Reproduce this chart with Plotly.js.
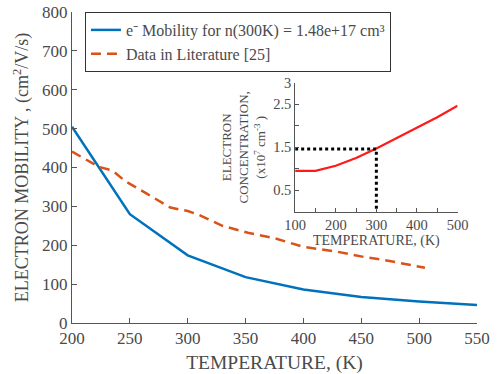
<!DOCTYPE html>
<html>
<head>
<meta charset="utf-8">
<script src="https://cdn.plot.ly/plotly-3.0.1.min.js"></script>
<style>html,body{margin:0;padding:0;background:#fff;}#chart{width:501px;height:374px;}</style>
</head>
<body>
<div id="chart"></div>
<script>
// Main plot: electron mobility
const mobilityTemp = [200, 250, 300, 350, 400, 450, 500, 550];
const mobilityValues = [505, 280, 174, 118, 86, 67, 55, 46];

const literatureTemp = [200, 223, 235, 246, 265, 285, 300, 310, 330, 352, 375, 400, 428, 452, 470, 505];
const literatureValues = [441, 402, 392, 365, 332, 297, 288, 278, 250, 232, 218, 196, 184, 170, 162, 142];

// Inset: electron concentration
const concTemp = [100, 150, 200, 250, 300, 350, 400, 450, 500];
const concValues = [0.95, 0.95, 1.07, 1.25, 1.47, 1.71, 1.95, 2.2, 2.47];

// Dotted guide at 300 K
const guideTemp = [100, 300, 300];
const guideValues = [1.46, 1.46, 0];

const insetYTickVals = [0.5, 1, 1.5, 2, 2.5, 3];
const insetYTickText = ['0.5', '', '1.5', '', '2.5', '3'];

const mainName = 'e\u207B Mobility for n(300K) = 1.48e+17 cm\u00B3';
const litName = 'Data in Literature [25]';

const FONT = 'Liberation Serif';
const TXT = '#4a4a4a';

const traces = [
  {x: mobilityTemp, y: mobilityValues, type: 'scatter', mode: 'lines', name: mainName,
   line: {color: '#0072BD', width: 2.5}},
  {x: literatureTemp, y: literatureValues, type: 'scatter', mode: 'lines', name: litName,
   line: {color: '#D95319', width: 2.5, dash: '10px,6px'}},
  {x: concTemp, y: concValues, type: 'scatter', mode: 'lines', xaxis: 'x2', yaxis: 'y2',
   showlegend: false, line: {color: '#FF1A1A', width: 2.2}},
  {x: guideTemp, y: guideValues, type: 'scatter', mode: 'lines', xaxis: 'x2', yaxis: 'y2',
   showlegend: false, line: {color: '#000', width: 3, dash: '3px,3px'}}
];

const layout = {
  width: 501, height: 374,
  margin: {l: 72, r: 24, t: 12, b: 51},
  paper_bgcolor: '#fff', plot_bgcolor: '#fff',
  font: {family: FONT, color: TXT, size: 17},
  showlegend: true,
  legend: {x: 0.032, y: 1.0, xanchor: 'left', yanchor: 'top', bgcolor: '#fff',
    bordercolor: '#333', borderwidth: 1, font: {family: FONT, size: 16, color: TXT},
    tracegroupgap: 0},
  xaxis: {range: [200, 550], dtick: 50, showgrid: false, zeroline: false,
    showline: true, linecolor: '#555', linewidth: 1, ticks: 'inside', ticklen: 5, tickcolor: '#555',
    tickfont: {family: FONT, size: 17, color: TXT},
    title: {text: 'TEMPERATURE, (K)', font: {family: FONT, size: 19.5, color: TXT}, standoff: 9}},
  yaxis: {range: [0, 800], dtick: 100, showgrid: false, zeroline: false,
    showline: true, linecolor: '#555', linewidth: 1, ticks: 'inside', ticklen: 5, tickcolor: '#555',
    tickfont: {family: FONT, size: 17, color: TXT},
    title: {text: 'ELECTRON MOBILITY , (cm<sup>2</sup>/V/s)', font: {family: FONT, size: 18, color: TXT}, standoff: 8}},
  xaxis2: {domain: [0.551, 0.952], anchor: 'y2', range: [100, 500], dtick: 100,
    showgrid: false, zeroline: false, showline: true, linecolor: '#555', linewidth: 1,
    ticks: 'inside', ticklen: 4, tickcolor: '#555', tickfont: {family: FONT, size: 14.5, color: TXT},
    minor: {dtick: 50, ticks: 'inside', ticklen: 4, tickcolor: '#555'},
    title: {text: 'TEMPERATURE, (K)', font: {family: FONT, size: 14, color: TXT}, standoff: 0}},
  yaxis2: {domain: [0.358, 0.772], anchor: 'x2', range: [0, 3],
    tickvals: insetYTickVals, ticktext: insetYTickText,
    showgrid: false, zeroline: false, showline: true, linecolor: '#555', linewidth: 1,
    ticks: 'inside', ticklen: 4, tickcolor: '#555', tickfont: {family: FONT, size: 14.5, color: TXT},
    title: {text: 'ELECTRON<br>CONCENTRATION,<br>(x10<sup>7</sup> cm<sup>-3</sup> )', font: {family: FONT, size: 13, color: TXT}, standoff: 4}}
};

Plotly.newPlot('chart', traces, layout, {displayModeBar: false, staticPlot: true});
</script>
</body>
</html>
